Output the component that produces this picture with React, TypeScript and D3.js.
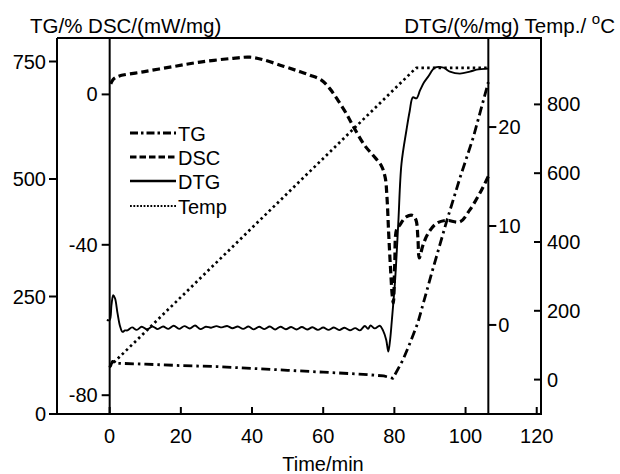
import * as d3 from 'd3'

// tick values for the five axes
const timeTicks = [0, 20, 40, 60, 80, 100, 120]
const tgTicks = [0, 250, 500, 750]
const dscTicks = [-80, -40, 0]
const dtgTicks = [0, 10, 20]
const tempTicks = [0, 200, 400, 600, 800]

// [time (min), value]
const tgSeries: [number, number][] = [
  [0, 99], [0.8, 112], [2, 108], [10, 106], [20, 103], [30, 101], [40, 97], [50, 93],
  [60, 89], [70, 85], [77, 81], [79.6, 76], [82.4, 115], [84.5, 153], [86.6, 194],
  [90.5, 300], [94.8, 413], [98.5, 504], [102.2, 589], [106.4, 706],
]

const dscSeries: [number, number][] = [
  [0.3, 2.8], [1, 4.0], [2.4, 4.8], [9.4, 6.0], [17.9, 7.4], [25.4, 8.6], [34.7, 9.6],
  [39.4, 9.9], [43.2, 9.2], [48.8, 7.5], [53, 6.2], [56.3, 5.1], [59.5, 3.8], [61.8, 1.6],
  [64.1, -1.5], [66.5, -5.1], [68.8, -9.1], [71.6, -13.5], [74, -16.2], [76.3, -18.9],
  [77.4, -22], [77.9, -27], [78.4, -37], [78.9, -46], [79.4, -53.5], [79.7, -55.5],
  [80.1, -45], [80.6, -36], [81.4, -34.9], [83.3, -32.6], [85.2, -32.2], [86.1, -33.5],
  [86.6, -38], [87, -43.5], [88, -40.2], [89.4, -37.1], [91.7, -34.4], [94.5, -33.5],
  [98.4, -33.9], [101.2, -30.7], [104, -26.3], [106.4, -21.8],
]

const dtgSeries: [number, number][] = [
  [-0.8, 0.5], [0, 0.5], [0.5, 2.0], [1.0, 3.0], [1.5, 2.7], [2.2, 1.2], [2.9, -0.1],
  [3.6, -0.7], [4.3, -0.55],
  [5.0, -0.55], [6.3, -0.25], [7.6, -0.5], [9.0, -0.18], [10.5, -0.45], [12.0, -0.15],
  [13.5, -0.42], [15.0, -0.16], [16.5, -0.4], [18.0, -0.08], [19.5, -0.4], [21.0, -0.12],
  [22.5, -0.36], [24.0, -0.06], [25.5, -0.42], [27.0, -0.18], [28.5, -0.28], [30.0, -0.12],
  [31.5, -0.25], [33.0, -0.1], [34.5, -0.34], [36.0, -0.15], [37.5, -0.4], [39.0, -0.16],
  [40.5, -0.45], [42.0, -0.18], [43.5, -0.42], [45.0, -0.16], [46.5, -0.46], [48.0, -0.18],
  [49.5, -0.44], [51.0, -0.2], [52.5, -0.46], [54.0, -0.2], [55.5, -0.46], [57.0, -0.24],
  [58.5, -0.5], [60.0, -0.26], [61.5, -0.5], [63.0, -0.26], [64.5, -0.52], [66.0, -0.28],
  [67.5, -0.54], [69.0, -0.32], [70.3, -0.55], [71.7, -0.1], [72.6, -0.4], [73.3, -0.05],
  [74.5, -0.35], [75.9, -0.08], [76.8, -0.55],
  [77.7, -1.5], [78.3, -2.7], [78.8, -1.5], [79.3, 0.5], [80.2, 4.5], [81.1, 10.3],
  [82.0, 16.3], [83.4, 19.7], [84.3, 21.6], [85.2, 23.0], [86.2, 22.9], [87.2, 23.7],
  [88.3, 24.5], [89.5, 25.1], [91.4, 26.0], [93.8, 26.0], [95.6, 25.6], [98.4, 25.4],
  [101.2, 25.6], [103.1, 25.8], [106.4, 25.9],
]

const tempSeries: [number, number][] = [[0, 38], [86.1, 906], [106.4, 906]]

const legendNames = ['TG', 'DSC', 'DTG', 'Temp']

const W = 620
const H = 474
const left = 57
const right = 541
const top = 38
const bottom = 414
const dtgAxisTime = 106.4
const font = 'Liberation Sans, Arial, sans-serif'

export default function App() {
  const x = d3.scaleLinear().domain([-14.8, 121.2]).range([left, right])
  const yTG = d3.scaleLinear().domain([0, 800]).range([bottom, top])
  const yDSC = d3.scaleLinear().domain([-85, 15]).range([bottom, top])
  const yDTG = d3.scaleLinear().domain([-9, 29]).range([bottom, top])
  const yTemp = d3.scaleLinear().domain([-100, 993]).range([bottom, top])

  const mk = (y: d3.ScaleLinear<number, number>, curve: d3.CurveFactory) =>
    d3.line<[number, number]>().x(d => x(d[0])).y(d => y(d[1])).curve(curve)

  const xDsc = x(0)
  const xDtg = x(dtgAxisTime)

  const styles = [
    { dash: '9 4 2.5 4', w: 2.8 },
    { dash: '7.5 4', w: 3.2 },
    { dash: null, w: 1.9 },
    { dash: '2.5 3.2', w: 2.7 },
  ]
  const legendStyles = [
    { dash: '8 3 2.5 3', w: 2.8 },
    { dash: '6.5 3', w: 3.2 },
    { dash: null, w: 2.6 },
    { dash: '1.8 1.6', w: 2 },
  ]

  const paths = [
    mk(yTG, d3.curveLinear)(tgSeries),
    mk(yDSC, d3.curveCatmullRom)(dscSeries),
    mk(yDTG, d3.curveCatmullRom)(dtgSeries),
    mk(yTemp, d3.curveLinear)(tempSeries),
  ]

  const legendY = [133, 157, 181, 206]

  return (
    <svg width={W} height={H} style={{ position: 'absolute', left: 0, top: 0, background: '#fff' }}
      fontFamily={font}>
      <rect width={W} height={H} fill="#fff" />
      {paths.map((p, i) => (
        <path key={i} d={p ?? ''} fill="none" stroke="#000" strokeWidth={styles[i].w}
          strokeDasharray={styles[i].dash ?? undefined} strokeLinejoin="round" />
      ))}

      {/* frame and inner axes */}
      <g stroke="#000" strokeWidth={2} fill="none">
        <path d={`M${left},${top}H${right}V${bottom}H${left - 7}M${left},${bottom}V${top}`} />
        <line x1={xDsc} x2={xDsc} y1={top} y2={bottom} />
        <line x1={xDtg} x2={xDtg} y1={top} y2={bottom} />
      </g>

      {/* time axis */}
      {timeTicks.map(t => (
        <g key={t}>
          <line x1={x(t)} x2={x(t)} y1={bottom} y2={bottom - 7} stroke="#000" strokeWidth={2} />
          <text x={x(t)} y={443} fontSize={20} textAnchor="middle">{t}</text>
        </g>
      ))}
      <text x={323} y={471} fontSize={20} textAnchor="middle">Time/min</text>

      {/* TG axis */}
      {tgTicks.map(v => (
        <g key={v}>
          <line x1={left - 8} x2={left} y1={yTG(v)} y2={yTG(v)} stroke="#000" strokeWidth={2} />
          <text x={left - 11} y={yTG(v) + 7} fontSize={20} textAnchor="end">{v}</text>
        </g>
      ))}

      {/* DSC axis */}
      {dscTicks.map(v => (
        <g key={v}>
          <line x1={xDsc - 8} x2={xDsc} y1={yDSC(v)} y2={yDSC(v)} stroke="#000" strokeWidth={2} />
          <text x={xDsc - 12} y={yDSC(v) + 7} fontSize={20} textAnchor="end">{v}</text>
        </g>
      ))}

      {/* DTG axis */}
      {dtgTicks.map(v => (
        <g key={v}>
          <line x1={xDtg} x2={xDtg + 8} y1={yDTG(v)} y2={yDTG(v)} stroke="#000" strokeWidth={2} />
          <text x={xDtg + 10} y={yDTG(v) + 7} fontSize={20}>{v}</text>
        </g>
      ))}

      {/* Temp axis */}
      {tempTicks.map(v => (
        <g key={v}>
          <line x1={right - 7} x2={right} y1={yTemp(v)} y2={yTemp(v)} stroke="#000" strokeWidth={2} />
          <text x={right + 6} y={yTemp(v) + 7} fontSize={20}>{v}</text>
        </g>
      ))}

      {/* axis titles */}
      <text x={30} y={33} fontSize={20.5}>TG/% DSC/(mW/mg)</text>
      <text x={615} y={33} fontSize={20.5} textAnchor="end">
        DTG/(%/mg) Temp./ <tspan fontSize={15} dy={-9}>o</tspan><tspan dy={9}>C</tspan>
      </text>

      {/* legend */}
      {legendNames.map((n, i) => (
        <g key={n}>
          <line x1={130} x2={176} y1={legendY[i]} y2={legendY[i]} stroke="#000"
            strokeWidth={legendStyles[i].w} strokeDasharray={legendStyles[i].dash ?? undefined} />
          <text x={178} y={legendY[i] + 7.5} fontSize={20}>{n}</text>
        </g>
      ))}
    </svg>
  )
}
